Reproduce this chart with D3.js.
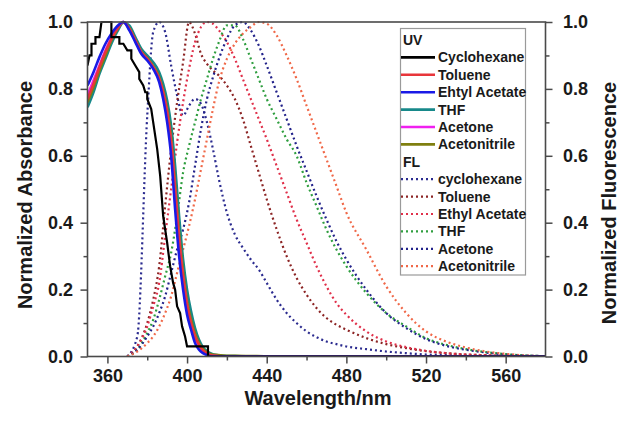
<!DOCTYPE html>
<html>
<head>
<meta charset="utf-8">
<script src="https://cdn.jsdelivr.net/npm/d3@7"></script>
<style>
  body { margin: 0; background: #fff; }
  text { font-family: "Liberation Sans", Arial, sans-serif; font-weight: bold; fill: #1a1a1a; }
</style>
</head>
<body>
<svg id="chart" width="619" height="427"></svg>
<script>
// ---- data ----
const uvWavelength = [350,353,356,359,362,365,368,371,374,377,380,383,386,388,390,392,394,396,398,400,402,404,406,408,410,412,414,418,424,435,450,580];
const uvToluene      = [0.77,0.815,0.865,0.91,0.95,0.98,1.0,0.98,0.945,0.91,0.89,0.865,0.83,0.79,0.73,0.64,0.5,0.35,0.24,0.155,0.1,0.06,0.035,0.018,0.009,0.004,0.002,0,0,0,0,0];
const uvEthylAcetate = [0.81,0.85,0.895,0.935,0.965,0.988,1.0,0.975,0.94,0.905,0.885,0.86,0.82,0.77,0.7,0.6,0.44,0.3,0.2,0.125,0.08,0.04,0.02,0.01,0.004,0,0,0,0,0,0,0];
const uvTHF          = [0.745,0.79,0.845,0.89,0.935,0.972,0.998,0.99,0.955,0.92,0.9,0.88,0.85,0.815,0.765,0.69,0.57,0.42,0.29,0.2,0.135,0.085,0.05,0.028,0.016,0.009,0.005,0.002,0.001,0,0,0];
const uvAcetone      = [0.78,0.825,0.87,0.915,0.952,0.982,1.0,0.978,0.944,0.908,0.888,0.863,0.828,0.785,0.725,0.635,0.49,0.345,0.235,0.15,0.095,0.057,0.032,0.016,0.008,0.003,0.001,0,0,0,0,0];
const uvAcetonitrile = [0.76,0.805,0.855,0.9,0.945,0.978,1.0,0.982,0.948,0.912,0.892,0.868,0.835,0.795,0.74,0.655,0.515,0.37,0.255,0.165,0.11,0.068,0.04,0.022,0.012,0.007,0.005,0.003,0.002,0.001,0,0];

// cyclohexane absorbance is stepped (coarse data)
const uvCyWavelength = [350,351,352,352,354,354,356,357,362,362,366,366,368,370,372,372,374,376,376,378,379,380,380,382,383,385,386.5,388,390,391.5,393,394,395,396.5,397.5,399,400,410.5,410.5,580];
const uvCyclohexane  = [0.87,0.9,0.9,0.935,0.935,0.955,0.955,1.0,1.0,0.955,0.955,0.935,0.935,0.915,0.915,0.89,0.87,0.85,0.83,0.81,0.79,0.79,0.77,0.74,0.7,0.62,0.54,0.42,0.34,0.27,0.22,0.2,0.15,0.13,0.09,0.06,0.03,0.03,0,0];

const flWavelength = [370,375,380,383,386,389,392,395,398,401,404,407,410,413,416,420,424,428,432,436,440,445,450,455,460,465,470,475,480,490,500,510,520,530,540,550,560,570,580];
const flCyclohexane   = [0,0.06,0.72,0.97,1.0,0.97,0.87,0.78,0.72,0.75,0.77,0.755,0.7,0.62,0.53,0.43,0.365,0.325,0.29,0.26,0.22,0.17,0.13,0.1,0.075,0.058,0.045,0.037,0.03,0.022,0.015,0.01,0.006,0.004,0.002,0.001,0,0,0];
const flToluene       = [0,0.03,0.1,0.17,0.27,0.45,0.62,0.76,0.88,1.0,0.965,0.905,0.875,0.855,0.84,0.81,0.77,0.71,0.63,0.55,0.47,0.38,0.3,0.235,0.185,0.145,0.115,0.095,0.08,0.055,0.037,0.025,0.016,0.01,0.006,0.004,0.002,0.001,0];
const flEthylAcetate  = [0,0.03,0.09,0.15,0.22,0.36,0.5,0.64,0.76,0.86,0.94,0.985,1.0,0.995,0.975,0.94,0.89,0.83,0.77,0.71,0.65,0.57,0.49,0.41,0.34,0.27,0.21,0.16,0.125,0.075,0.045,0.028,0.017,0.01,0.006,0.004,0.002,0.001,0];
const flTHF           = [0,0.02,0.07,0.11,0.17,0.24,0.31,0.42,0.55,0.63,0.7,0.77,0.83,0.89,0.94,0.99,0.99,0.95,0.89,0.83,0.77,0.71,0.65,0.6,0.52,0.45,0.38,0.32,0.27,0.19,0.13,0.09,0.055,0.035,0.022,0.013,0.007,0.003,0.001];
const flAcetone       = [0,0.02,0.06,0.09,0.13,0.18,0.25,0.32,0.38,0.46,0.57,0.68,0.77,0.835,0.89,0.95,0.99,1.0,0.975,0.93,0.87,0.79,0.71,0.63,0.555,0.48,0.41,0.345,0.29,0.2,0.13,0.085,0.052,0.032,0.02,0.012,0.006,0.003,0.001];
const flAcetonitrile  = [0,0.015,0.04,0.06,0.09,0.13,0.18,0.25,0.32,0.39,0.47,0.56,0.65,0.74,0.82,0.89,0.935,0.965,0.985,1.0,0.995,0.96,0.9,0.83,0.75,0.67,0.59,0.51,0.43,0.32,0.21,0.13,0.075,0.045,0.027,0.015,0.008,0.003,0.001];

const uvLabels = ['Cyclohexane', 'Toluene', 'Ehtyl Acetate', 'THF', 'Acetone', 'Acetonitrile'];
const flLabels = ['cyclohexane', 'Toluene', 'Ethyl Acetate', 'THF', 'Acetone', 'Acetonitrile'];
const uvColors = ['#000000', '#e8353a', '#1a1ae6', '#17898a', '#f020f0', '#7f7f10'];
const flColors = ['#2b2b8f', '#8c2424', '#e0304a', '#2f9e3f', '#22228a', '#f06848'];

const xMajor = [360, 400, 440, 480, 520, 560];
const xMinor = [380, 420, 460, 500, 540];
const yMajor = [0, 0.2, 0.4, 0.6, 0.8, 1.0];
const yMinor = [0.1, 0.3, 0.5, 0.7, 0.9];

// ---- layout ----
const svg = d3.select('#chart');
const plotLeft = 87.5, plotRight = 545.5, plotTop = 22, plotBottom = 356.5;

const x = d3.scaleLinear().domain([350, 580]).range([plotLeft, plotRight]);
const y = d3.scaleLinear().domain([0, 1]).range([plotBottom, plotTop]);

svg.append('clipPath').attr('id', 'plot')
  .append('rect').attr('x', plotLeft).attr('y', plotTop - 2)
  .attr('width', plotRight - plotLeft).attr('height', plotBottom - plotTop + 2);

const plot = svg.append('g').attr('clip-path', 'url(#plot)');

const smooth = d3.line().x(d => x(d[0])).y(d => y(d[1])).curve(d3.curveMonotoneX);
const straight = d3.line().x(d => x(d[0])).y(d => y(d[1]));

// fluorescence, dotted
const flSeries = [flCyclohexane, flToluene, flEthylAcetate, flTHF, flAcetone, flAcetonitrile];
flSeries.forEach((s, i) => {
  plot.append('path')
    .attr('d', smooth(flWavelength.map((w, j) => [w, s[j]])))
    .attr('fill', 'none')
    .attr('stroke', flColors[i])
    .attr('stroke-width', 2.2)
    .attr('stroke-dasharray', '2,3');
});

// absorbance, solid (draw order so blue/red sit on top like the figure)
const uvSeries = [null, uvToluene, uvEthylAcetate, uvTHF, uvAcetone, uvAcetonitrile];
[3, 5, 4, 1, 2].forEach(i => {
  plot.append('path')
    .attr('d', smooth(uvWavelength.map((w, j) => [w, uvSeries[i][j]])))
    .attr('fill', 'none')
    .attr('stroke', uvColors[i])
    .attr('stroke-width', 2.6);
});
plot.append('path')
  .attr('d', straight(uvCyWavelength.map((w, j) => [w, uvCyclohexane[j]])))
  .attr('fill', 'none')
  .attr('stroke', uvColors[0])
  .attr('stroke-width', 2.2);

// ---- axes ----
const axisColor = '#4a4a4a';
function styleAxis(g) {
  g.select('.domain').remove();
  g.selectAll('line').attr('stroke', axisColor).attr('stroke-width', 1.5);
  g.selectAll('text').style('font-size', '18px').style('font-family', '"Liberation Sans", Arial, sans-serif')
    .style('font-weight', 'bold').attr('fill', '#1a1a1a');
}

svg.append('g').attr('transform', `translate(0,${plotBottom})`)
  .call(d3.axisBottom(x).tickValues(xMajor).tickSize(7).tickPadding(6).tickFormat(d3.format('d')))
  .call(styleAxis);
svg.append('g').attr('transform', `translate(0,${plotBottom})`)
  .call(d3.axisBottom(x).tickValues(xMinor).tickSize(4).tickFormat(''))
  .call(styleAxis);

svg.append('g').attr('transform', `translate(${plotLeft},0)`)
  .call(d3.axisLeft(y).tickValues(yMajor).tickSize(7).tickPadding(7.5).tickFormat(d3.format('.1f')))
  .call(styleAxis);
svg.append('g').attr('transform', `translate(${plotLeft},0)`)
  .call(d3.axisLeft(y).tickValues(yMinor).tickSize(4).tickFormat(''))
  .call(styleAxis);

svg.append('g').attr('transform', `translate(${plotRight},0)`)
  .call(d3.axisRight(y).tickValues(yMajor).tickSize(7).tickPadding(10.5).tickFormat(d3.format('.1f')))
  .call(styleAxis);
svg.append('g').attr('transform', `translate(${plotRight},0)`)
  .call(d3.axisRight(y).tickValues(yMinor).tickSize(4).tickFormat(''))
  .call(styleAxis);

svg.append('rect')
  .attr('x', plotLeft).attr('y', plotTop).attr('width', plotRight - plotLeft).attr('height', plotBottom - plotTop)
  .attr('fill', 'none').attr('stroke', axisColor).attr('stroke-width', 1.6);

// axis titles
svg.append('text').attr('x', 318).attr('y', 405).attr('text-anchor', 'middle')
  .style('font-size', '20px').text('Wavelength/nm');
svg.append('text').attr('transform', 'translate(32,195) rotate(-90)').attr('text-anchor', 'middle')
  .style('font-size', '20px').text('Normalized Absorbance');
svg.append('text').attr('transform', 'translate(616,203) rotate(-90)').attr('text-anchor', 'middle')
  .style('font-size', '20px').text('Normalized Fluorescence');

// ---- legend ----
const legend = svg.append('g');
legend.append('rect').attr('x', 400.5).attr('y', 28.5).attr('width', 125).attr('height', 246.5)
  .attr('fill', '#fff').attr('stroke', '#9a9a9a').attr('stroke-width', 1.2);

const rowY = i => 40 + 17.4 * i;
legend.append('text').attr('x', 403).attr('y', rowY(0)).attr('dy', '0.35em').style('font-size', '14px').text('UV');
legend.append('text').attr('x', 403).attr('y', rowY(7)).attr('dy', '0.35em').style('font-size', '14px').text('FL');

uvLabels.forEach((lab, i) => {
  const yy = rowY(i + 1);
  legend.append('line').attr('x1', 401).attr('x2', 435).attr('y1', yy).attr('y2', yy)
    .attr('stroke', uvColors[i]).attr('stroke-width', 2.6);
  legend.append('text').attr('x', 438).attr('y', yy).attr('dy', '0.35em').style('font-size', '14px').text(lab);
});
flLabels.forEach((lab, i) => {
  const yy = rowY(i + 8);
  legend.append('line').attr('x1', 401).attr('x2', 434).attr('y1', yy).attr('y2', yy)
    .attr('stroke', flColors[i]).attr('stroke-width', 2.2).attr('stroke-dasharray', '2,3');
  legend.append('text').attr('x', 438).attr('y', yy).attr('dy', '0.35em').style('font-size', '14px').text(lab);
});
</script>
</body>
</html>
